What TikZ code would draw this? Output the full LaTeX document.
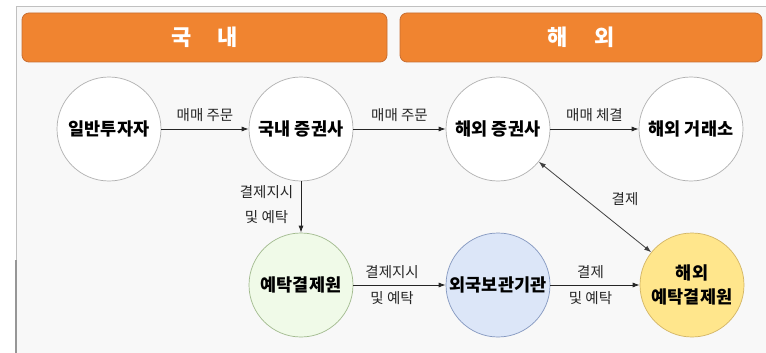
\documentclass[tikz,border=0pt]{standalone}
\usepackage{fontspec}
\setmainfont{Noto Sans CJK KR}
\usetikzlibrary{arrows.meta}
\definecolor{panelbg}{RGB}{248,248,248}
\definecolor{panelline}{RGB}{150,150,150}
\definecolor{hdrfill}{RGB}{240,132,48}
\definecolor{hdrline}{RGB}{200,110,50}
\definecolor{cline}{RGB}{175,175,175}
\definecolor{gfill}{RGB}{240,250,232}
\definecolor{gline}{RGB}{160,185,140}
\definecolor{bfill}{RGB}{220,230,248}
\definecolor{bline}{RGB}{130,150,190}
\definecolor{yfill}{RGB}{255,230,140}
\definecolor{yline}{RGB}{210,180,100}
\tikzset{
  hdr/.style={draw=hdrline, fill=hdrfill, rounded corners=7pt, line width=0.8pt},
  hdrtext/.style={text=white, font=\bfseries\fontsize{22}{25}\selectfont},
  circ/.style={circle, draw=cline, fill=white, minimum size=104pt, inner sep=0pt, line width=0.7pt,
     font=\bfseries\fontsize{17.5}{22}\selectfont, align=center},
  lbl/.style={font=\fontsize{14.5}{18}\selectfont, align=center, text=black!85},
  arr/.style={-{Latex[length=7pt,width=5pt]}, line width=0.8pt, draw=black!85},
  darr/.style={{Latex[length=7pt,width=5pt]}-{Latex[length=7pt,width=5pt]}, line width=0.8pt, draw=black!75}
}
\begin{document}
\begin{tikzpicture}[x=1pt,y=-1pt]
\useasboundingbox (0,0) rectangle (766,353);
\fill[white] (0,0) rectangle (766,353);
\fill[panelbg] (16,6) rectangle (770,360);
\draw[panelline!60, line width=0.8pt] (16,360) -- (16,6) -- (770,6);
\draw[panelline, line width=1.2pt] (16,260) -- (16,360);
% headers
\draw[hdr] (22,13) rectangle (387,62);
\draw[hdr] (400,13) rectangle (762,62);
\node[hdrtext] (h1) at (204.5,37.5) {국\hspace{1.2em}내};
\node[hdrtext] (h2) at (581,37.5) {해\hspace{1.2em}외};
% circles
\node[circ] (inv) at (109,129) {일반투자자};
\node[circ] (dom) at (301,129) {국내 증권사};
\node[circ] (fsec) at (498,129) {해외 증권사};
\node[circ] (fex) at (691,129) {해외 거래소};
\node[circ, fill=gfill, draw=gline] (ksd) at (301,285) {예탁결제원};
\node[circ, fill=bfill, draw=bline] (cust) at (498,285) {외국보관기관};
\node[circ, fill=yfill, draw=yline] (fcsd) at (692,285) {해외\\[2pt]예탁결제원};
% arrows
\draw[arr] (inv) -- node[lbl, above=4pt] {매매 주문} (dom);
\draw[arr] (dom) -- node[lbl, above=4pt] {매매 주문} (fsec);
\draw[arr] (fsec) -- node[lbl, above=4pt] {매매 체결} (fex);
\draw[arr] (dom) -- node[lbl, left=4pt, pos=0.45] {결제지시\\[7pt]및 예탁} (ksd);
\draw[arr] (ksd) -- node[lbl, pos=0.42, above=3pt] {결제지시} node[lbl, pos=0.42, below=3pt] {및 예탁} (cust);
\draw[arr] (cust) -- node[lbl, pos=0.45, above=3pt] {결제} node[lbl, pos=0.45, below=3pt] {및 예탁} (fcsd);
\draw[darr] (fsec) -- node[lbl, pos=0.5, xshift=30pt, yshift=8pt] {결제} (fcsd);
\end{tikzpicture}
\end{document}
